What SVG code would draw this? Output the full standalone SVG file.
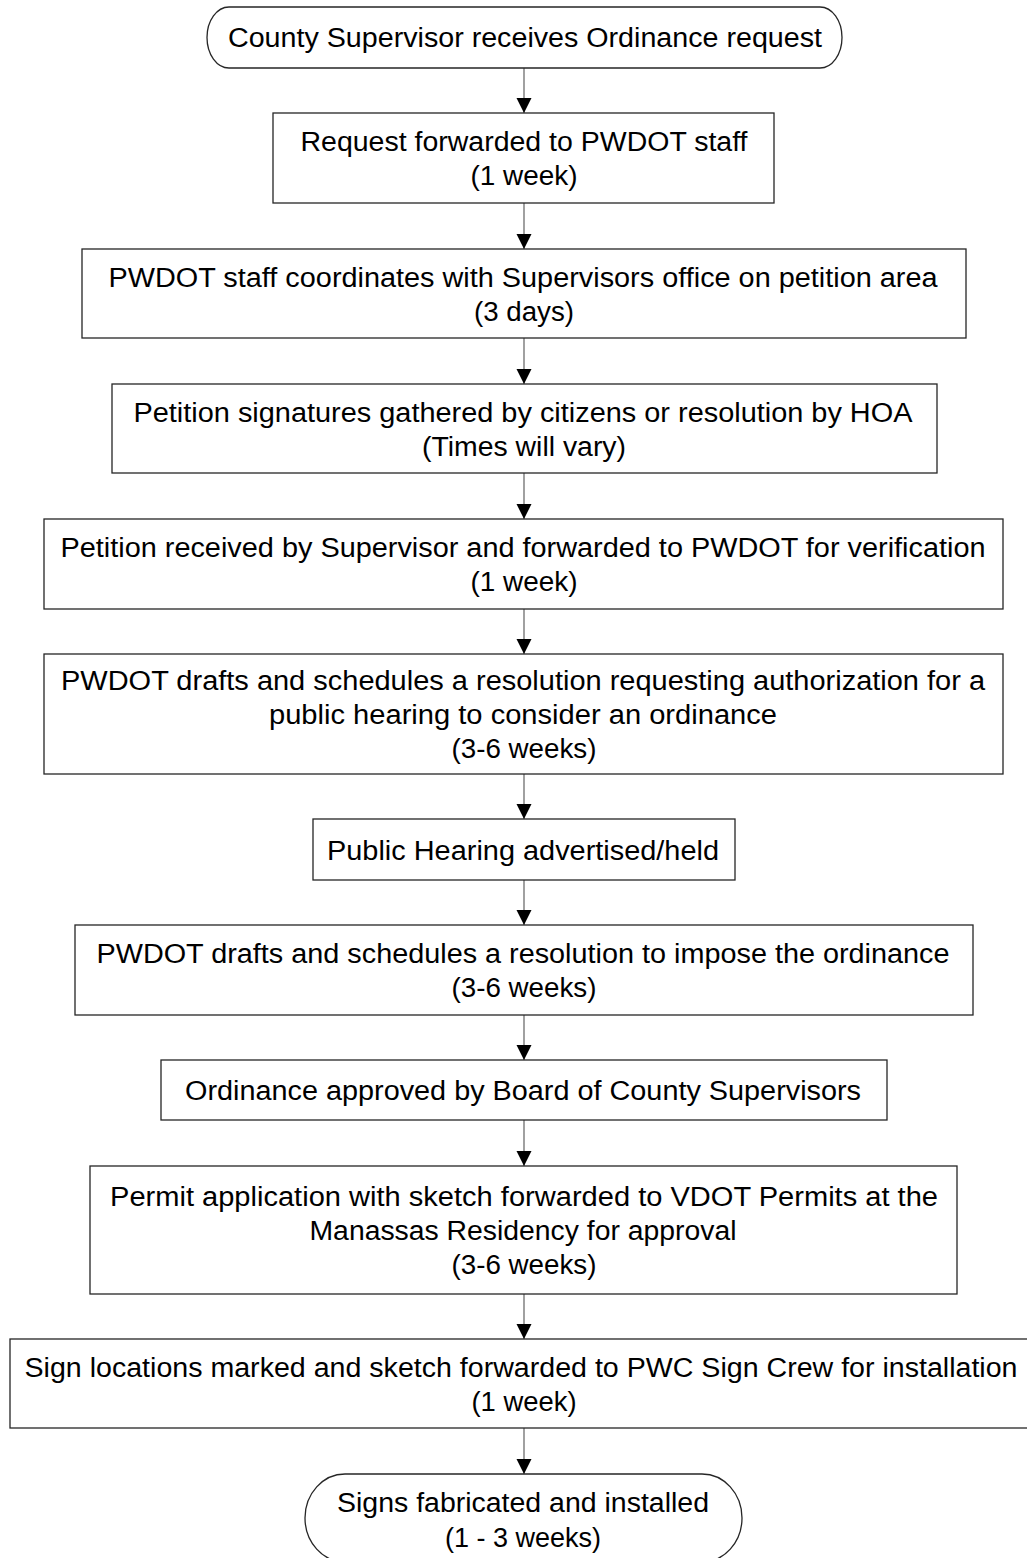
<svg xmlns="http://www.w3.org/2000/svg" width="1027" height="1558" viewBox="0 0 1027 1558">
  <style>
    .node { fill: #ffffff; stroke: #262626; stroke-width: 1.3; }
    .label { font-family: "Liberation Sans", Arial, sans-serif; font-size: 27px; fill: #000000; text-anchor: middle; }
    .edge { stroke: #6e6e6e; stroke-width: 1.3; fill: none; marker-end: url(#arrow); }
  </style>
  <defs>
    <marker id="arrow" markerUnits="userSpaceOnUse" markerWidth="16" markerHeight="16" viewBox="0 0 16 16" refX="15" refY="8" orient="auto">
      <path d="M0,0.5 L15,8 L0,15.5 Z" fill="#000000"/>
    </marker>
  </defs>
  <rect width="1027" height="1558" fill="#ffffff"/>

  <!-- connectors -->
  <g id="connectors">
    <line class="edge" x1="524" y1="68" x2="524" y2="113"/>
    <line class="edge" x1="524" y1="203" x2="524" y2="249"/>
    <line class="edge" x1="524" y1="338" x2="524" y2="384"/>
    <line class="edge" x1="524" y1="473" x2="524" y2="519"/>
    <line class="edge" x1="524" y1="609" x2="524" y2="654"/>
    <line class="edge" x1="524" y1="774" x2="524" y2="819"/>
    <line class="edge" x1="524" y1="880" x2="524" y2="925"/>
    <line class="edge" x1="524" y1="1015" x2="524" y2="1060"/>
    <line class="edge" x1="524" y1="1120" x2="524" y2="1166"/>
    <line class="edge" x1="524" y1="1294" x2="524" y2="1339"/>
    <line class="edge" x1="524" y1="1428" x2="524" y2="1474"/>
  </g>

  <!-- start terminator -->
  <g id="start">
    <rect class="node" x="207" y="7" width="635" height="61" rx="22" ry="30.5"/>
    <text class="label" x="525" y="47" textLength="594" lengthAdjust="spacingAndGlyphs">County Supervisor receives Ordinance request</text>
  </g>

  <g id="step1">
    <rect class="node" x="273" y="113" width="501" height="90"/>
    <text class="label" x="524" y="151" textLength="447" lengthAdjust="spacingAndGlyphs">Request forwarded to PWDOT staff</text>
    <text class="label" x="524" y="185" textLength="107" lengthAdjust="spacingAndGlyphs">(1 week)</text>
  </g>

  <g id="step2">
    <rect class="node" x="82" y="249" width="884" height="89"/>
    <text class="label" x="523" y="287" textLength="829" lengthAdjust="spacingAndGlyphs">PWDOT staff coordinates with Supervisors office on petition area</text>
    <text class="label" x="524" y="321" textLength="100" lengthAdjust="spacingAndGlyphs">(3 days)</text>
  </g>

  <g id="step3">
    <rect class="node" x="112" y="384" width="825" height="89"/>
    <text class="label" x="523" y="422" textLength="779" lengthAdjust="spacingAndGlyphs">Petition signatures gathered by citizens or resolution by HOA</text>
    <text class="label" x="524" y="456" textLength="204" lengthAdjust="spacingAndGlyphs">(Times will vary)</text>
  </g>

  <g id="step4">
    <rect class="node" x="44" y="519" width="959" height="90"/>
    <text class="label" x="523" y="557" textLength="925" lengthAdjust="spacingAndGlyphs">Petition received by Supervisor and forwarded to PWDOT for verification</text>
    <text class="label" x="524" y="591" textLength="107" lengthAdjust="spacingAndGlyphs">(1 week)</text>
  </g>

  <g id="step5">
    <rect class="node" x="44" y="654" width="959" height="120"/>
    <text class="label" x="523" y="690" textLength="924" lengthAdjust="spacingAndGlyphs">PWDOT drafts and schedules a resolution requesting authorization for a</text>
    <text class="label" x="523" y="724" textLength="508" lengthAdjust="spacingAndGlyphs">public hearing to consider an ordinance</text>
    <text class="label" x="524" y="758" textLength="145" lengthAdjust="spacingAndGlyphs">(3-6 weeks)</text>
  </g>

  <g id="step6">
    <rect class="node" x="313" y="819" width="422" height="61"/>
    <text class="label" x="523" y="860" textLength="392" lengthAdjust="spacingAndGlyphs">Public Hearing advertised/held</text>
  </g>

  <g id="step7">
    <rect class="node" x="75" y="925" width="898" height="90"/>
    <text class="label" x="523" y="963" textLength="853" lengthAdjust="spacingAndGlyphs">PWDOT drafts and schedules a resolution to impose the ordinance</text>
    <text class="label" x="524" y="997" textLength="145" lengthAdjust="spacingAndGlyphs">(3-6 weeks)</text>
  </g>

  <g id="step8">
    <rect class="node" x="161" y="1060" width="726" height="60"/>
    <text class="label" x="523" y="1100" textLength="676" lengthAdjust="spacingAndGlyphs">Ordinance approved by Board of County Supervisors</text>
  </g>

  <g id="step9">
    <rect class="node" x="90" y="1166" width="867" height="128"/>
    <text class="label" x="524" y="1206" textLength="828" lengthAdjust="spacingAndGlyphs">Permit application with sketch forwarded to VDOT Permits at the</text>
    <text class="label" x="523" y="1240" textLength="427" lengthAdjust="spacingAndGlyphs">Manassas Residency for approval</text>
    <text class="label" x="524" y="1274" textLength="145" lengthAdjust="spacingAndGlyphs">(3-6 weeks)</text>
  </g>

  <g id="step10">
    <rect class="node" x="10" y="1339" width="1030" height="89"/>
    <text class="label" x="521" y="1377" textLength="993" lengthAdjust="spacingAndGlyphs">Sign locations marked and sketch forwarded to PWC Sign Crew for installation</text>
    <text class="label" x="524" y="1411" textLength="105" lengthAdjust="spacingAndGlyphs">(1 week)</text>
  </g>

  <!-- end terminator -->
  <g id="end">
    <rect class="node" x="305" y="1474" width="437" height="88" rx="40" ry="44"/>
    <text class="label" x="523" y="1512" textLength="372" lengthAdjust="spacingAndGlyphs">Signs fabricated and installed</text>
    <text class="label" x="523" y="1547" textLength="156" lengthAdjust="spacingAndGlyphs">(1 - 3 weeks)</text>
  </g>
</svg>
